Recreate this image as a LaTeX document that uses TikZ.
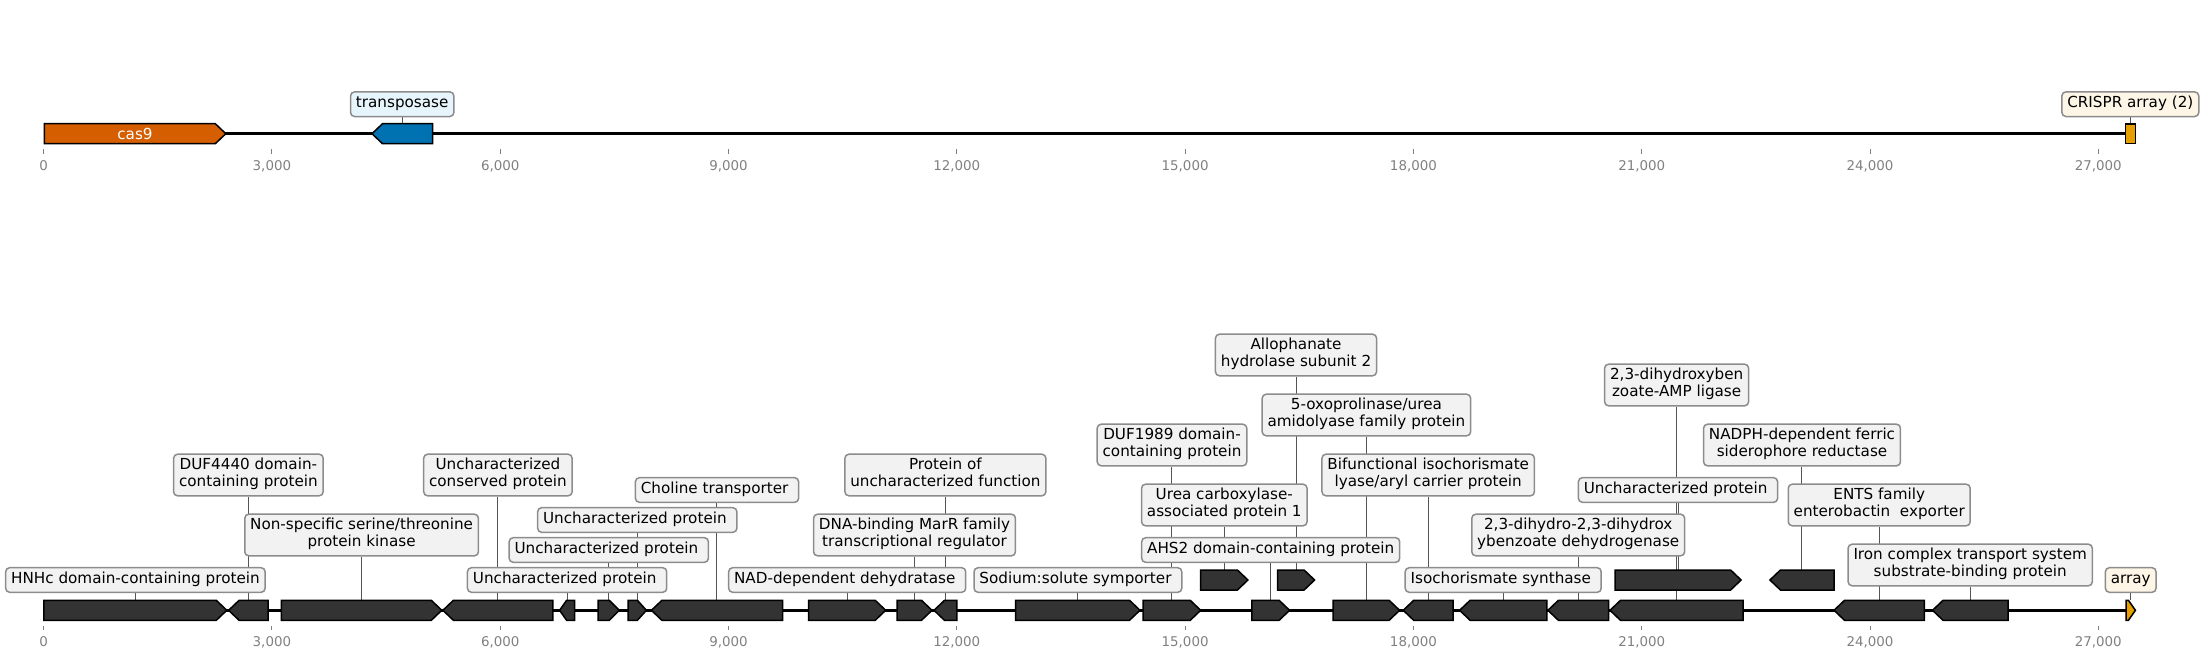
\documentclass[tikz,border=0pt]{standalone}
\usepackage{fontspec}
\setmainfont{DejaVu Sans}
\usetikzlibrary{calc}
\definecolor{genefill}{HTML}{333333}
\definecolor{lblfill}{HTML}{F2F2F2}
\definecolor{lbldraw}{HTML}{8C8C8C}
\definecolor{cnct}{HTML}{555555}
\definecolor{casorange}{HTML}{D55E00}
\definecolor{tpblue}{HTML}{0072B2}
\definecolor{crorange}{HTML}{E69F00}
\definecolor{lblblue}{HTML}{E6F4FB}
\definecolor{lblcream}{HTML}{FDF6E6}
\definecolor{tickgray}{HTML}{808080}
\pgfdeclarelayer{bg}
\pgfsetlayers{bg,main}
\newcommand\lblfont{\fontsize{7.6pt}{8.5pt}\selectfont}
\newcommand\tickfont{\fontsize{6.7pt}{8pt}\selectfont}
% forward gene: name, x1, x2, yc, head, fill
\newcommand\GeneF[6]{%
  \draw[genestyle, fill=#6] (#2,{#4-10}) -- ({#3-#5},{#4-10}) -- (#3,#4) -- ({#3-#5},{#4+10}) -- (#2,{#4+10}) -- cycle;
  \coordinate (#1) at ({(#2+#3)/2},{#4-10});}
% reverse gene
\newcommand\GeneR[6]{%
  \draw[genestyle, fill=#6] (#2,#4) -- ({#2+#5},{#4-10}) -- (#3,{#4-10}) -- (#3,{#4+10}) -- ({#2+#5},{#4+10}) -- cycle;
  \coordinate (#1) at ({(#2+#3)/2},{#4-10});}
\tikzset{
  genestyle/.style={draw=black, line width=0.75pt, line join=miter},
  lbl/.style={draw=lbldraw, fill=lblfill, rounded corners=2pt, line width=0.75pt,
    inner xsep=2.7pt, inner ysep=1.9pt, align=center, font=\lblfont, text=black},
  conn/.style={draw=cnct, line width=0.5pt},
  track/.style={draw=black, line width=1.4pt},
  tickmark/.style={draw=tickgray, line width=0.5pt},
  ticklbl/.style={font=\tickfont, text=tickgray, inner sep=0pt},
}
\newcommand\trsp{\kern.318em}
\begin{document}
\begin{tikzpicture}[x=0.5pt,y=-0.5pt]
\useasboundingbox (0,0) rectangle (2204,659);

% ---------------- top track ----------------
\begin{pgfonlayer}{bg}
\draw[track] (43.6,133.7) -- (2130,133.7);
\end{pgfonlayer}
\GeneF{tcas}{44.4}{225.8}{133.7}{10.5}{casorange}
\node[font=\lblfont, text=white, inner sep=0pt] (cas9txt) at (135,133.7) {cas9};
\GeneR{ttp}{372}{432.5}{133.7}{10.5}{tpblue}
\draw[genestyle, fill=crorange] (2125.3,124) rectangle (2135.3,143.4);
\coordinate (tcr) at (2130.3,124);

\node[lbl, fill=lblblue] (ltp) at (402.2,104.2) {\strut transposase};
\node[lbl, fill=lblcream] (lcr) at (2130.3,104.2) {\strut CRISPR array (2)};
\begin{pgfonlayer}{bg}
\draw[conn] (ltp.south -| ttp) -- (ttp);
\draw[conn] (lcr.south -| tcr) -- (tcr);
\end{pgfonlayer}

\foreach \k/\t in {0/0,1/{3,000},2/{6,000},3/{9,000},4/{12,000},5/{15,000},6/{18,000},7/{21,000},8/{24,000},9/{27,000}}{
  \draw[tickmark] ({43.6+228.3*\k},149.3) -- ({43.6+228.3*\k},154);
  \node[ticklbl] (ta\k) at ({43.6+228.3*\k},166) {\t};
  \draw[tickmark] ({43.6+228.3*\k},625.5) -- ({43.6+228.3*\k},630);
  \node[ticklbl] (tb\k) at ({43.6+228.3*\k},642) {\t};
}

% ---------------- bottom track ----------------
\begin{pgfonlayer}{bg}
\draw[track] (43.6,610.3) -- (2130,610.3);
\end{pgfonlayer}
\GeneF{g1}{43.9}{226.8}{610.3}{10.5}{genefill}
\GeneR{g2}{228.6}{268.2}{610.3}{10.5}{genefill}
\GeneF{g3}{281.4}{441.8}{610.3}{10.5}{genefill}
\GeneR{g4}{442.9}{552.9}{610.3}{10.5}{genefill}
\GeneR{g5}{559.6}{574.6}{610.3}{7}{genefill}
\GeneF{g6}{598.2}{619.3}{610.3}{10}{genefill}
\GeneF{g7}{628.2}{646.4}{610.3}{9}{genefill}
\GeneR{g8}{651.4}{782.5}{610.3}{10.5}{genefill}
\GeneF{g9}{808.6}{885.7}{610.3}{10.5}{genefill}
\GeneF{g10}{897}{932}{610.3}{10.5}{genefill}
\GeneR{g11}{934}{956.8}{610.3}{10.5}{genefill}
\GeneF{g12}{1015.7}{1140}{610.3}{10.5}{genefill}
\GeneF{g13}{1143.2}{1200.7}{610.3}{10.5}{genefill}
\GeneF{g14}{1200.7}{1247.9}{580}{10.5}{genefill}
\GeneF{g15}{1251.8}{1289.6}{610.3}{10.5}{genefill}
\GeneF{g16}{1277.5}{1314.6}{580}{10.5}{genefill}
\GeneF{g17}{1333.2}{1399.6}{610.3}{10.5}{genefill}
\GeneR{g18}{1403.2}{1453.2}{610.3}{10.5}{genefill}
\GeneR{g19}{1459.6}{1546.8}{610.3}{10.5}{genefill}
\GeneR{g20}{1547.9}{1608.6}{610.3}{10.5}{genefill}
\GeneR{g21}{1610}{1743.2}{610.3}{10.5}{genefill}
\GeneF{g21u}{1615}{1741.1}{580}{10.5}{genefill}
\GeneR{g22u}{1769.9}{1834}{580}{10.5}{genefill}
\GeneR{g22}{1834}{1924.3}{610.3}{10.5}{genefill}
\GeneR{g23}{1932.5}{2008}{610.3}{10.5}{genefill}
\GeneF{g24}{2126}{2135.4}{610.3}{7}{crorange}

% labels
\node[lbl] (l1) at (135.4,580) {\strut HNHc domain-containing protein};
\node[lbl] (l2) at (248.4,475) {\strut DUF4440 domain-\\\strut containing protein};
\node[lbl] (l3) at (361.6,535) {\strut Non-specific serine/threonine\\\strut protein kinase};
\node[lbl] (l4) at (497.9,475) {\strut Uncharacterized\\\strut conserved protein};
\node[lbl] (l5) at (567.1,580) {\strut Uncharacterized protein\trsp};
\node[lbl] (l6) at (608.8,550) {\strut Uncharacterized protein\trsp};
\node[lbl] (l7) at (637.3,520) {\strut Uncharacterized protein\trsp};
\node[lbl] (l8) at (717,490) {\strut Choline transporter\trsp};
\node[lbl] (l9) at (847.2,580) {\strut NAD-dependent dehydratase\trsp};
\node[lbl] (l10) at (914.5,535) {\strut DNA-binding MarR family\\\strut transcriptional regulator};
\node[lbl] (l11) at (945.4,475) {\strut Protein of\\\strut uncharacterized function};
\node[lbl] (l12) at (1077.9,580) {\strut Sodium:solute symporter\trsp};
\node[lbl] (l13) at (1172,445) {\strut DUF1989 domain-\\\strut containing protein};
\node[lbl] (l14) at (1224.3,505) {\strut Urea carboxylase-\\\strut associated protein 1};
\node[lbl] (l15) at (1270.7,550) {\strut AHS2 domain-containing protein};
\node[lbl] (l16) at (1296,355) {\strut Allophanate\\\strut hydrolase subunit 2};
\node[lbl] (l17) at (1366.4,415) {\strut 5-oxoprolinase/urea\\\strut amidolyase family protein};
\node[lbl] (l18) at (1428.2,475) {\strut Bifunctional isochorismate\\\strut lyase/aryl carrier protein};
\node[lbl] (l19) at (1503.2,580) {\strut Isochorismate synthase\trsp};
\node[lbl] (l20) at (1578.2,535) {\strut 2,3-dihydro-2,3-dihydrox\\\strut ybenzoate dehydrogenase};
\node[lbl] (l21) at (1676.6,385) {\strut 2,3-dihydroxyben\\\strut zoate-AMP ligase};
\node[lbl] (l21u) at (1678,490) {\strut Uncharacterized protein\trsp};
\node[lbl] (l22u) at (1802,445) {\strut NADPH-dependent ferric\\\strut siderophore reductase};
\node[lbl] (l22) at (1879.2,505) {\strut ENTS family\\\strut enterobactin\ \ exporter};
\node[lbl] (l23) at (1970.2,565) {\strut Iron complex transport system\\\strut substrate-binding protein};
\node[lbl, fill=lblcream] (l24) at (2130.7,580) {\strut array};

\begin{pgfonlayer}{bg}
\foreach \n in {1,2,3,4,5,6,7,8,9,10,11,12,13,14,15,16,17,18,19,20,21,21u,22u,22,23,24}{
  \draw[conn] (l\n.south -| g\n) -- (g\n);
}
\end{pgfonlayer}
\end{tikzpicture}
\end{document}
